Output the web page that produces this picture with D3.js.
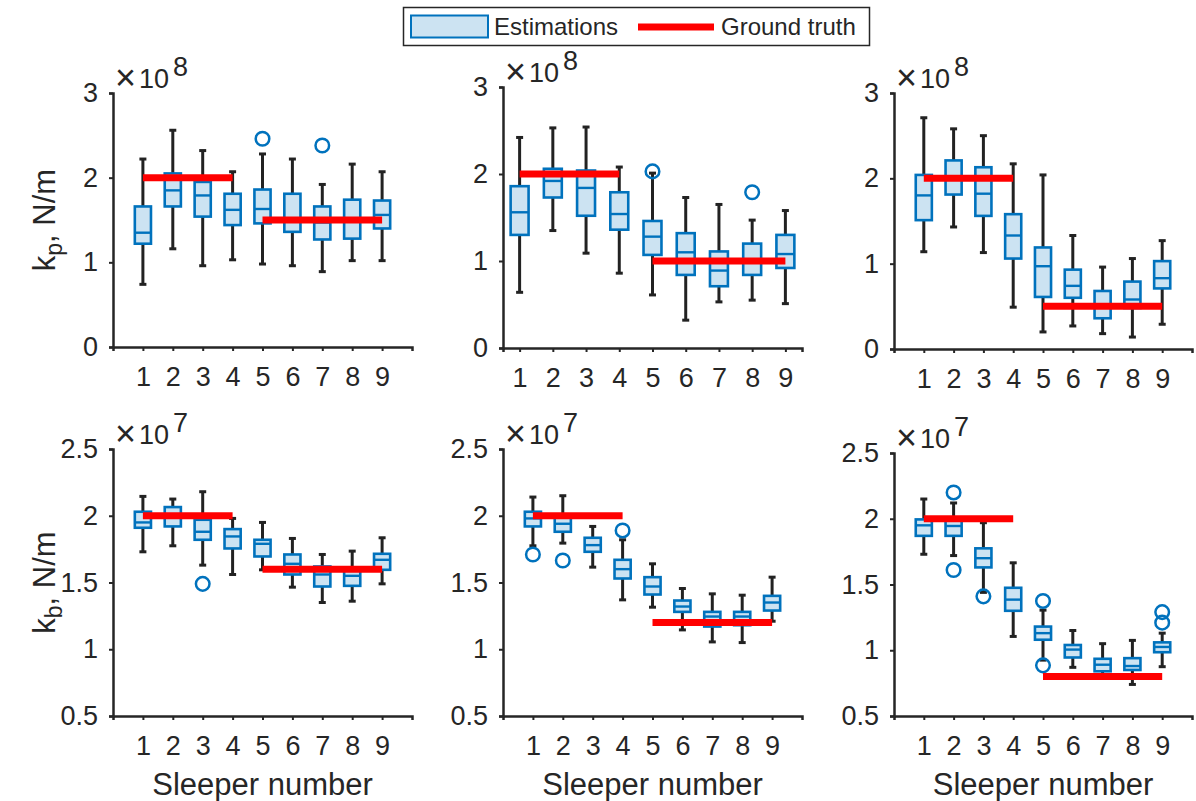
<!doctype html>
<html lang="en">
<head>
  <meta charset="utf-8">
  <title>Sleeper stiffness estimations</title>
  <script src="https://d3js.org/d3.v7.min.js"></script>
  <style>
    body { margin: 0; background: #fff; }
    text { font-family: "Liberation Sans", Arial, sans-serif; fill: #262626; }
  </style>
</head>
<body>
  <svg id="chart" width="1196" height="801"></svg>
  <script>
    // Data ---------------------------------------------------------------------
    const sleepers = [1, 2, 3, 4, 5, 6, 7, 8, 9];
    const truthGroups = [[1, 4], [5, 9]];

    // each row: [lower whisker, q1, median, q3, upper whisker]
    const kpCase1 = [
      [0.74, 1.22, 1.35, 1.66, 2.22], [1.16, 1.66, 1.85, 2.05, 2.56],
      [0.96, 1.54, 1.79, 1.95, 2.32], [1.03, 1.44, 1.62, 1.81, 2.07],
      [0.98, 1.46, 1.63, 1.86, 2.28], [0.96, 1.36, 1.50, 1.81, 2.22],
      [0.89, 1.27, 1.47, 1.66, 1.92], [1.02, 1.28, 1.50, 1.74, 2.16],
      [1.02, 1.40, 1.56, 1.73, 2.07]
    ];
    const kpCase1Out = [[5, 2.46], [7, 2.38]];
    const kpCase1Truth = [2.0, 1.5];

    const kpCase2 = [
      [0.64, 1.30, 1.56, 1.86, 2.42], [1.35, 1.73, 1.92, 2.06, 2.53],
      [1.09, 1.52, 1.84, 2.04, 2.54], [0.86, 1.36, 1.54, 1.79, 2.08],
      [0.61, 1.07, 1.28, 1.46, 2.01], [0.32, 0.84, 1.10, 1.32, 1.73],
      [0.53, 0.71, 0.89, 1.11, 1.65], [0.55, 0.84, 1.00, 1.20, 1.47],
      [0.51, 0.92, 1.08, 1.30, 1.58]
    ];
    const kpCase2Out = [[5, 2.03], [8, 1.79]];
    const kpCase2Truth = [2.0, 1.0];

    const kpCase3 = [
      [1.14, 1.51, 1.80, 2.04, 2.71], [1.43, 1.81, 2.00, 2.21, 2.58],
      [1.13, 1.56, 1.82, 2.13, 2.50], [0.49, 1.06, 1.33, 1.58, 2.17],
      [0.20, 0.61, 0.97, 1.19, 2.04], [0.27, 0.60, 0.74, 0.93, 1.33],
      [0.18, 0.36, 0.50, 0.68, 0.96], [0.14, 0.48, 0.58, 0.79, 1.06],
      [0.29, 0.71, 0.83, 1.03, 1.27]
    ];
    const kpCase3Out = [];
    const kpCase3Truth = [2.0, 0.5];

    const kbCase1 = [
      [1.73, 1.91, 1.95, 2.03, 2.145], [1.775, 1.92, 2.00, 2.065, 2.125],
      [1.63, 1.82, 1.88, 1.97, 2.18], [1.56, 1.755, 1.845, 1.90, 1.98],
      [1.595, 1.695, 1.79, 1.82, 1.95], [1.465, 1.56, 1.64, 1.71, 1.83],
      [1.35, 1.47, 1.56, 1.62, 1.71], [1.36, 1.475, 1.55, 1.61, 1.735],
      [1.49, 1.595, 1.67, 1.715, 1.835]
    ];
    const kbCase1Out = [[3, 1.49]];
    const kbCase1Truth = [2.0, 1.6];

    const kbCase2 = [
      [1.775, 1.92, 1.98, 2.03, 2.14], [1.795, 1.88, 1.94, 1.99, 2.15],
      [1.615, 1.73, 1.78, 1.835, 1.92], [1.37, 1.53, 1.60, 1.67, 1.82],
      [1.315, 1.41, 1.47, 1.54, 1.64], [1.145, 1.28, 1.32, 1.365, 1.455],
      [1.055, 1.17, 1.245, 1.28, 1.415], [1.05, 1.18, 1.245, 1.28, 1.405],
      [1.21, 1.29, 1.35, 1.40, 1.54]
    ];
    const kbCase2Out = [[1, 1.71], [2, 1.665], [4, 1.89]];
    const kbCase2Truth = [2.0, 1.2];

    const kbCase3 = [
      [1.73, 1.87, 1.95, 1.995, 2.15], [1.72, 1.87, 1.945, 1.99, 2.12],
      [1.44, 1.63, 1.70, 1.775, 1.97], [1.105, 1.30, 1.385, 1.475, 1.665],
      [0.925, 1.08, 1.13, 1.18, 1.305], [0.87, 0.945, 1.005, 1.04, 1.15],
      [0.79, 0.84, 0.89, 0.935, 1.05], [0.74, 0.85, 0.88, 0.94, 1.075],
      [0.875, 0.985, 1.025, 1.06, 1.13]
    ];
    const kbCase3Out = [[2, 2.2], [2, 1.61], [3, 1.41], [5, 1.375], [5, 0.885], [9, 1.29], [9, 1.21]];
    const kbCase3Truth = [2.0, 0.8];

    const kpTicks = [0, 1, 2, 3];
    const kbTicks = [0.5, 1, 1.5, 2, 2.5];

    // Layout ---------------------------------------------------------------------
    const blue = "#0072BD";
    const fillBlue = "#cce3f2";
    const ink = "#262626";

    const panels = [
      { box: kpCase1, out: kpCase1Out, truth: kpCase1Truth, left: 113, right: 412, top: 93, bottom: 347, xd: [0, 10], yd: [0, 3], ticks: kpTicks, exp: "8", sub: "p" },
      { box: kpCase2, out: kpCase2Out, truth: kpCase2Truth, left: 503, right: 802, top: 87, bottom: 348, xd: [0.5, 9.5], yd: [0, 3], ticks: kpTicks, exp: "8" },
      { box: kpCase3, out: kpCase3Out, truth: kpCase3Truth, left: 894, right: 1192, top: 93, bottom: 349, xd: [0, 10], yd: [0, 3], ticks: kpTicks, exp: "8" },
      { box: kbCase1, out: kbCase1Out, truth: kbCase1Truth, left: 113, right: 412, top: 449, bottom: 716, xd: [0, 10], yd: [0.5, 2.5], ticks: kbTicks, exp: "7", sub: "b", xlabel: true },
      { box: kbCase2, out: kbCase2Out, truth: kbCase2Truth, left: 503, right: 802, top: 449, bottom: 716, xd: [0, 10], yd: [0.5, 2.5], ticks: kbTicks, exp: "7", xlabel: true },
      { box: kbCase3, out: kbCase3Out, truth: kbCase3Truth, left: 894, right: 1192, top: 453, bottom: 716, xd: [0, 10], yd: [0.5, 2.5], ticks: kbTicks, exp: "7", xlabel: true }
    ];

    const svg = d3.select("#chart");

    panels.forEach(p => {
      const x = d3.scaleLinear().domain(p.xd).range([p.left, p.right]);
      const y = d3.scaleLinear().domain(p.yd).range([p.bottom, p.top]);
      const g = svg.append("g");
      const bw = (x(2) - x(1)) * 0.54;

      // axes
      const xAxis = g.append("g")
        .attr("transform", `translate(0,${p.bottom})`)
        .call(d3.axisBottom(x).tickValues(sleepers).tickSizeOuter(0).tickSize(4).tickPadding(16));
      const yAxis = g.append("g")
        .attr("transform", `translate(${p.left},0)`)
        .call(d3.axisLeft(y).tickValues(p.ticks).tickFormat(d => String(d)).tickSizeOuter(0).tickSize(4).tickPadding(11));
      [xAxis, yAxis].forEach(a => {
        a.select(".domain").attr("stroke", ink).attr("stroke-width", 2.5);
        a.selectAll(".tick line").attr("stroke", ink).attr("stroke-width", 2);
        a.selectAll(".tick text").attr("font-size", 27).attr("fill", ink);
      });

      // whiskers
      const items = g.selectAll(".est").data(p.box).join("g").attr("class", "est");
      items.append("line")
        .attr("x1", (d, i) => x(sleepers[i])).attr("x2", (d, i) => x(sleepers[i]))
        .attr("y1", d => y(d[0])).attr("y2", d => y(d[4]))
        .attr("stroke", "#222").attr("stroke-width", 3);
      [0, 4].forEach(k => {
        items.append("line")
          .attr("x1", (d, i) => x(sleepers[i]) - 3.5).attr("x2", (d, i) => x(sleepers[i]) + 3.5)
          .attr("y1", d => y(d[k])).attr("y2", d => y(d[k]))
          .attr("stroke", "#222").attr("stroke-width", 3);
      });
      // boxes
      items.append("rect")
        .attr("x", (d, i) => x(sleepers[i]) - bw / 2).attr("width", bw)
        .attr("y", d => y(d[3])).attr("height", d => y(d[1]) - y(d[3]))
        .attr("fill", fillBlue).attr("stroke", blue).attr("stroke-width", 2.6);
      items.append("line")
        .attr("x1", (d, i) => x(sleepers[i]) - bw / 2).attr("x2", (d, i) => x(sleepers[i]) + bw / 2)
        .attr("y1", d => y(d[2])).attr("y2", d => y(d[2]))
        .attr("stroke", blue).attr("stroke-width", 2.4);

      // outliers
      g.selectAll(".out").data(p.out).join("circle").attr("class", "out")
        .attr("cx", d => x(d[0])).attr("cy", d => y(d[1])).attr("r", 6.8)
        .attr("fill", "none").attr("stroke", blue).attr("stroke-width", 2.5);

      // ground truth
      g.selectAll(".truth").data(p.truth).join("line").attr("class", "truth")
        .attr("x1", (d, i) => x(truthGroups[i][0])).attr("x2", (d, i) => x(truthGroups[i][1]))
        .attr("y1", d => y(d)).attr("y2", d => y(d))
        .attr("stroke", "#ff0000").attr("stroke-width", 7);

      // exponent label
      const ex = g.append("text").attr("x", p.left + 2).attr("y", p.top - 5).attr("font-size", 27);
      ex.append("tspan").attr("font-size", 36).attr("font-weight", 300).attr("dy", 2).text("\u00d7");
      ex.append("tspan").attr("dx", 3).attr("dy", -2).text("10");
      ex.append("tspan").attr("dx", 4).attr("dy", -12).text(p.exp);

      if (p.sub) {
        const yl = g.append("text")
          .attr("transform", `translate(55,${(p.top + p.bottom) / 2}) rotate(-90)`)
          .attr("text-anchor", "middle").attr("font-size", 31);
        yl.append("tspan").text("k");
        yl.append("tspan").attr("dy", 7).attr("font-size", 23).text(p.sub);
        yl.append("tspan").attr("dy", -7).text(", N/m");
      }
      if (p.xlabel) {
        g.append("text").attr("x", (p.left + p.right) / 2).attr("y", 795)
          .attr("text-anchor", "middle").attr("font-size", 31).text("Sleeper number");
      }
    });

    // Legend -------------------------------------------------------------------
    const lg = svg.append("g");
    lg.append("rect").attr("x", 403.5).attr("y", 7.5).attr("width", 466).attr("height", 38)
      .attr("fill", "#fff").attr("stroke", "#262626").attr("stroke-width", 1.5);
    lg.append("rect").attr("x", 411).attr("y", 15.5).attr("width", 77).attr("height", 22)
      .attr("fill", fillBlue).attr("stroke", blue).attr("stroke-width", 2);
    lg.append("text").attr("x", 494).attr("y", 35).attr("font-size", 24).attr("fill", "#000").text("Estimations");
    lg.append("line").attr("x1", 638).attr("x2", 714).attr("y1", 27).attr("y2", 27)
      .attr("stroke", "#ff0000").attr("stroke-width", 7);
    lg.append("text").attr("x", 721).attr("y", 35).attr("font-size", 24).attr("fill", "#000").text("Ground truth");
  </script>
</body>
</html>
